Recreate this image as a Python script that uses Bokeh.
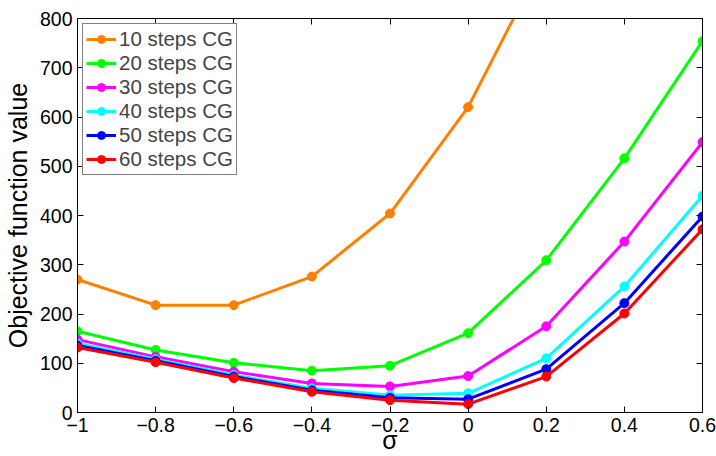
from bokeh.plotting import figure
from bokeh.models import Range1d, LinearAxis, FixedTicker, CustomJSTickFormatter, Legend, LegendItem
from bokeh.embed import file_html
from bokeh.resources import INLINE

sigma = [-1.0, -0.8, -0.6, -0.4, -0.2, 0.0, 0.2, 0.4, 0.6]
series_names = ["10 steps CG", "20 steps CG", "30 steps CG", "40 steps CG", "50 steps CG", "60 steps CG"]
cg10 = [270, 218, 218, 276, 404, 620, 930, 1400, 1900]
cg20 = [165, 127, 101, 85, 95, 161, 309, 516, 754]
cg30 = [148, 113, 83, 59, 53, 74, 175, 347, 549]
cg40 = [140, 108, 76, 49, 35, 39, 110, 256, 440]
cg50 = [136, 105, 73, 45, 30, 27, 88, 222, 398]
cg60 = [132, 102, 70, 42, 25, 17, 73, 201, 372]
x_ticks = [-1.0, -0.8, -0.6, -0.4, -0.2, 0.0, 0.2, 0.4, 0.6]
y_ticks = [0, 100, 200, 300, 400, 500, 600, 700, 800]

colors = ["#FF8000", "#00FF00", "#FF00FF", "#00FFFF", "#0000FF", "#FF0000"]
all_series = [cg10, cg20, cg30, cg40, cg50, cg60]

FONT = "Liberation Sans"

p = figure(width=716, height=456, output_backend="svg", toolbar_location=None,
           x_range=Range1d(-1, 0.6), y_range=Range1d(0, 800),
           min_border_left=76, min_border_right=14, min_border_top=18, min_border_bottom=44)
p.xgrid.visible = False
p.ygrid.visible = False
p.outline_line_color = "black"
p.outline_line_width = 1
p.background_fill_color = "white"
p.border_fill_color = "white"

fmt = CustomJSTickFormatter(code="""
let s;
if (Math.abs(tick) < 1e-9) { s = "0"; }
else if (Math.abs(tick - Math.round(tick)) < 1e-9) { s = String(Math.round(tick)); }
else { s = tick.toFixed(1); }
return s.replace('-', '\u2212');
""")
blank = CustomJSTickFormatter(code='return "";')

def style_axis(ax, show_labels=True):
    ax.major_tick_in = 6
    ax.major_tick_out = 0
    ax.minor_tick_in = 0
    ax.minor_tick_out = 0
    ax.axis_line_color = "black"
    ax.major_tick_line_color = "black"
    ax.major_label_text_font = FONT
    ax.major_label_text_color = "black"
    ax.major_label_text_font_size = "19.5px"
    ax.major_label_standoff = 5
    if not show_labels:
        ax.formatter = blank
        ax.major_label_standoff = 0

p.xaxis.ticker = FixedTicker(ticks=x_ticks)
p.yaxis.ticker = FixedTicker(ticks=y_ticks)
for ax in p.xaxis + p.yaxis:
    style_axis(ax)
p.xaxis.formatter = fmt
p.xaxis.axis_label = "σ"
p.yaxis.axis_label = "Objective function value"
for ax in p.xaxis + p.yaxis:
    ax.axis_label_text_font = FONT
    ax.axis_label_text_font_size = "25px"
    ax.axis_label_text_font_style = "normal"
    ax.axis_label_text_color = "black"
p.xaxis.axis_label_standoff = -9
p.yaxis.axis_label_standoff = 5

top_ax = LinearAxis(ticker=FixedTicker(ticks=x_ticks))
style_axis(top_ax, show_labels=False)
p.add_layout(top_ax, "above")
right_ax = LinearAxis(ticker=FixedTicker(ticks=y_ticks))
style_axis(right_ax, show_labels=False)
p.add_layout(right_ax, "right")

items = []
for name, ys, c in zip(series_names, all_series, colors):
    r1 = p.line(sigma, ys, line_color=c, line_width=3)
    r2 = p.scatter(sigma, ys, marker="circle", size=9, fill_color=c, line_color=c)
    items.append(LegendItem(label=name, renderers=[r1, r2]))

legend = Legend(items=items, location="top_left", margin=5, padding=3,
                spacing=0, glyph_width=30, glyph_height=20, label_height=20,
                label_standoff=3, label_text_font=FONT, label_text_font_size="20.5px",
                border_line_color="black", border_line_width=1,
                background_fill_color="white", background_fill_alpha=1.0)
p.add_layout(legend)

open("out.html", "w").write(file_html(p, INLINE))
